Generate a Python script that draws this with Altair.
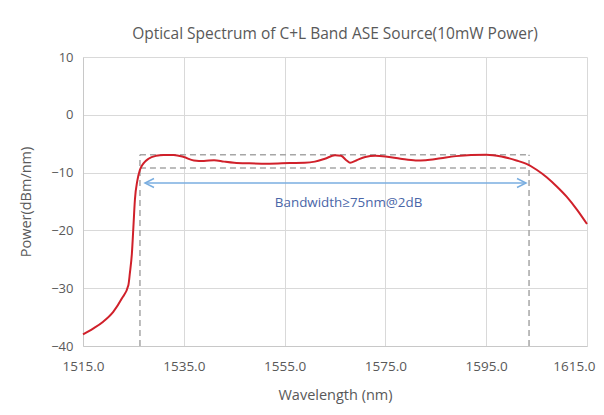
import altair as alt
import pandas as pd

# Spectrum curve
wavelength = [1515, 1517, 1519, 1521, 1522.7, 1524.0, 1524.3, 1524.7, 1525.0, 1525.3,
              1525.8, 1526.3, 1527.0, 1528.0, 1529.5, 1531, 1533, 1535, 1537, 1539,
              1541, 1543, 1545, 1548, 1552, 1556, 1559, 1561, 1563, 1565,
              1566.2, 1567.3, 1568, 1569.2, 1571, 1573, 1575, 1578, 1581, 1583,
              1586, 1589, 1592, 1595, 1598, 1601, 1603, 1605, 1607, 1609,
              1611, 1613, 1615]
power = [-38.0, -37.0, -35.8, -34.1, -31.8, -29.5, -27.4, -24.0, -19.4, -14.7,
         -11.3, -9.5, -8.4, -7.6, -7.1, -6.95, -6.95, -7.3, -7.9, -8.0,
         -7.85, -8.1, -8.3, -8.4, -8.45, -8.35, -8.3, -8.1, -7.6, -7.0,
         -7.1, -7.9, -8.3, -7.9, -7.3, -7.1, -7.2, -7.6, -7.9, -7.85,
         -7.5, -7.15, -6.95, -6.9, -7.2, -7.9, -8.5, -9.5, -10.8, -12.4,
         -14.2, -16.4, -18.9]

# Bandwidth box and arrow
box_left, box_right = 1526.3, 1603.5
box_top, box_2db, floor = -6.9, -9.2, -40
arrow_left, arrow_right, arrow_y = 1527.3, 1602.9, -11.8
label_text = "Bandwidth\u226575nm@2dB"
label_x, label_y = 1567.7, -15.3

x_ticks = [1515, 1535, 1555, 1575, 1595, 1615]
y_ticks = [10, 0, -10, -20, -30, -40]

FONT = "Open Sans"
GRAY_TXT = "#595959"

xs = alt.Scale(domain=[1515, 1615], nice=False)
ys = alt.Scale(domain=[-40, 10], nice=False)

curve_df = pd.DataFrame({"w": wavelength, "p": power})

x_axis = alt.Axis(values=x_ticks, format=".1f", title="Wavelength (nm)",
                  labelPadding=13, titlePadding=16, labelFlush=False,
                  labelFontSize=13.5,
                  labelAlign=alt.expr("datum.value >= 1615 ? 'right' : 'center'"),
                  labelOffset=alt.expr("datum.value >= 1615 ? 8 : 0"))
y_axis = alt.Axis(values=y_ticks, title="Power(dBm/nm)", labelPadding=10,
                  titlePadding=17, labelFontSize=13)

curve = alt.Chart(curve_df).mark_line(color="#d0202a", strokeWidth=2,
                                      interpolate="monotone").encode(
    x=alt.X("w:Q", scale=xs, axis=x_axis),
    y=alt.Y("p:Q", scale=ys, axis=y_axis),
)

hlines_df = pd.DataFrame({"x1": [box_left, box_left], "x2": [box_right, box_right],
                          "y": [box_top, box_2db]})
vlines_df = pd.DataFrame({"x": [box_left, box_right], "y1": [floor, floor],
                          "y2": [box_top, box_top]})

dash = dict(color="#a6a6a6", strokeWidth=1.5, strokeDash=[6, 4])
hlines = alt.Chart(hlines_df).mark_rule(**dash).encode(
    x=alt.X("x1:Q", scale=xs), x2="x2:Q", y=alt.Y("y:Q", scale=ys))
vlines = alt.Chart(vlines_df).mark_rule(**dash).encode(
    x=alt.X("x:Q", scale=xs), y=alt.Y("y1:Q", scale=ys), y2="y2:Q")

arrow_df = pd.DataFrame({"x1": [arrow_left], "x2": [arrow_right], "y": [arrow_y]})
ARROW = "#7aaee0"
arrow = alt.Chart(arrow_df).mark_rule(color=ARROW, strokeWidth=1.5).encode(
    x=alt.X("x1:Q", scale=xs), x2="x2:Q", y=alt.Y("y:Q", scale=ys))

head_l = alt.Chart(pd.DataFrame({"x": [arrow_left], "y": [arrow_y]})).mark_point(
    shape="M1,-0.5L0,0L1,0.5", size=324, filled=False, color=ARROW, strokeWidth=1.5,
    opacity=1).encode(x=alt.X("x:Q", scale=xs), y=alt.Y("y:Q", scale=ys))
head_r = alt.Chart(pd.DataFrame({"x": [arrow_right], "y": [arrow_y]})).mark_point(
    shape="M-1,-0.5L0,0L-1,0.5", size=324, filled=False, color=ARROW, strokeWidth=1.5,
    opacity=1).encode(x=alt.X("x:Q", scale=xs), y=alt.Y("y:Q", scale=ys))

label = alt.Chart(pd.DataFrame({"x": [label_x], "y": [label_y], "t": [label_text]})).mark_text(
    font=FONT, fontSize=13.4, color="#4a66a8").encode(
    x=alt.X("x:Q", scale=xs), y=alt.Y("y:Q", scale=ys), text="t:N")

chart = alt.layer(hlines, vlines, arrow, head_l, head_r, curve, label).properties(
    width=504, height=289,
    background="white",
    autosize=alt.AutoSizeParams(type="none"),
    padding={"left": 75, "top": 49, "right": 9, "bottom": 61},
    title=alt.Title("Optical Spectrum of C+L Band ASE Source(10mW Power)",
                    font=FONT, fontSize=15.5, fontWeight="normal", color=GRAY_TXT,
                    offset=9),
).configure_view(stroke=None).configure_axis(
    grid=True, gridColor="#d9d9d9", domainColor="#c8c8c8", ticks=False,
    labelFont=FONT, labelColor=GRAY_TXT,
    titleFont=FONT, titleFontSize=14.5, titleFontWeight="normal", titleColor=GRAY_TXT,
)

chart.save("out.html", embed_options={"renderer": "svg", "actions": False})
